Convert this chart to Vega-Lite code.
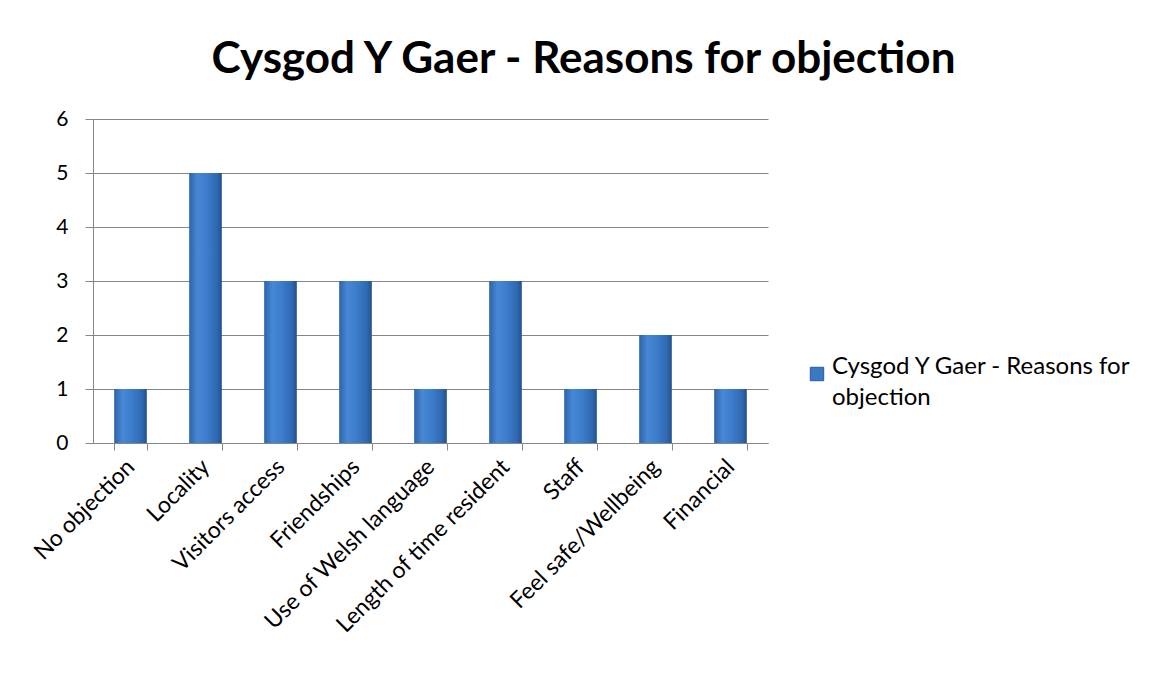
{
  "$schema": "https://vega.github.io/schema/vega-lite/v6.json",
  "width": 675,
  "height": 324,
  "autosize": {"type": "none"},
  "padding": {"left": 93, "top": 119, "right": 387, "bottom": 232},
  "background": "white",
  "config": {
    "font": "Lato",
    "view": {"stroke": null},
    "style": {"guide-label": {"lineHeight": 31}}
  },
  "title": {
    "text": "Cysgod Y Gaer - Reasons for objection",
    "fontSize": 44,
    "fontWeight": "bold",
    "font": "Lato",
    "color": "#000000",
    "anchor": "middle",
    "dx": 153,
    "offset": 26
  },
  "data": {
    "values": [
      {"reason": "No objection", "count": 1, "series": "Cysgod Y Gaer - Reasons for objection"},
      {"reason": "Locality", "count": 5, "series": "Cysgod Y Gaer - Reasons for objection"},
      {"reason": "Visitors access", "count": 3, "series": "Cysgod Y Gaer - Reasons for objection"},
      {"reason": "Friendships", "count": 3, "series": "Cysgod Y Gaer - Reasons for objection"},
      {"reason": "Use of Welsh language", "count": 1, "series": "Cysgod Y Gaer - Reasons for objection"},
      {"reason": "Length of time resident", "count": 3, "series": "Cysgod Y Gaer - Reasons for objection"},
      {"reason": "Staff", "count": 1, "series": "Cysgod Y Gaer - Reasons for objection"},
      {"reason": "Feel safe/Wellbeing", "count": 2, "series": "Cysgod Y Gaer - Reasons for objection"},
      {"reason": "Financial", "count": 1, "series": "Cysgod Y Gaer - Reasons for objection"}
    ]
  },
  "encoding": {
    "x": {
      "field": "reason",
      "type": "nominal",
      "sort": null,
      "title": null,
      "scale": {"paddingInner": 0.57, "paddingOuter": 0.285},
      "axis": {
        "labelAngle": -45,
        "labelFontSize": 23,
        "labelColor": "#000000",
        "labelFont": "Lato",
        "labelAlign": "right",
        "labelBaseline": "middle",
        "labelPadding": 13,
        "labelLimit": 400,
        "labelOverlap": false,
        "domainColor": "#868686",
        "tickColor": "#868686",
        "tickBand": "extent",
        "tickSize": 7,
        "grid": false
      }
    },
    "y": {
      "field": "count",
      "type": "quantitative",
      "title": null,
      "scale": {"domain": [0, 6]},
      "axis": {
        "values": [0, 1, 2, 3, 4, 5, 6],
        "labelFontSize": 21,
        "labelColor": "#000000",
        "labelFont": "Lato",
        "labelPadding": 17,
        "domainColor": "#868686",
        "tickColor": "#868686",
        "tickSize": 8,
        "gridColor": "#868686",
        "gridWidth": 1
      }
    }
  },
  "layer": [
    {
      "mark": {"type": "bar"},
      "encoding": {
        "color": {
          "field": "series",
          "type": "nominal",
          "scale": {"range": ["#3a78c6"]},
          "legend": {
            "title": null,
            "orient": "none",
            "legendX": 712,
            "legendY": 243,
            "symbolType": "square",
            "symbolSize": 180,
            "symbolStrokeColor": "#2a5a98",
            "symbolStrokeWidth": 1,
            "labelFontSize": 24,
            "labelFont": "Lato",
            "labelColor": "#000000",
            "labelLimit": 400,
            "labelExpr": "['Cysgod Y Gaer - Reasons for', 'objection']",
            "labelBaseline": "alphabetic",
            "labelOffset": 3
          }
        }
      }
    },
    {
      "mark": {
        "type": "bar",
        "fill": {
          "gradient": "linear",
          "x1": 0, "y1": 0, "x2": 1, "y2": 0,
          "stops": [
            {"offset": 0, "color": "#2f64a8"},
            {"offset": 0.25, "color": "#4788d6"},
            {"offset": 0.55, "color": "#3c7cca"},
            {"offset": 0.85, "color": "#3069b2"},
            {"offset": 1, "color": "#25518b"}
          ]
        }
      },
      "encoding": {}
    }
  ]
}
